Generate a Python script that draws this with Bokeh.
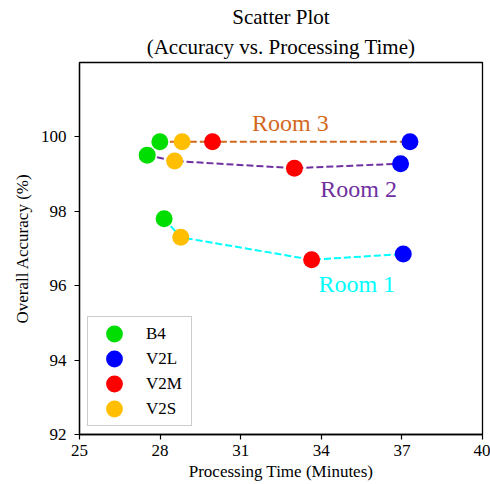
from bokeh.plotting import figure
from bokeh.models import Range1d, FixedTicker, Title, Legend, LegendItem, ColumnDataSource
from bokeh.core.properties import value
from bokeh.embed import file_html
from bokeh.resources import INLINE

# ---- data ----
models = ["B4", "V2S", "V2M", "V2L"]
room1_time = [28.15, 28.77, 33.64, 37.05]
room1_acc = [97.80, 97.30, 96.70, 96.85]
room2_time = [27.52, 28.54, 33.00, 36.95]
room2_acc = [99.51, 99.35, 99.16, 99.28]
room3_time = [27.99, 28.82, 29.95, 37.30]
room3_acc = [99.87, 99.87, 99.87, 99.87]

room_names = ["Room 1", "Room 2", "Room 3"]
room_label_x = [35.32, 35.39, 32.85]
room_label_y = [96.05, 98.61, 100.37]

x_ticks = [25, 28, 31, 34, 37, 40]
y_ticks = [92, 94, 96, 98, 100]

legend_order = ["B4", "V2L", "V2M", "V2S"]
model_colors = {"B4": "#00DD00", "V2L": "#0000FF", "V2M": "#FF0000", "V2S": "#FFBF00"}
room_colors = ["#00FFFF", "#7030A0", "#D2691E"]

title_line1 = "Scatter Plot"
title_line2 = "(Accuracy vs. Processing Time)"

FONT = "Liberation Serif"

p = figure(width=490, height=484, output_backend="svg", toolbar_location=None,
           x_range=Range1d(25, 40), y_range=Range1d(92, 102),
           min_border_left=79, min_border_right=8, min_border_top=62, min_border_bottom=50)

# titles (second line closest to the frame)
t2 = Title(text=title_line2, align="center", text_font=FONT, text_font_size="21px",
           text_font_style="normal", text_color="black", standoff=8)
t1 = Title(text=title_line1, align="center", text_font=FONT, text_font_size="21px",
           text_font_style="normal", text_color="black", standoff=0)
p.add_layout(t2, "above")
p.add_layout(t1, "above")

p.grid.visible = False
p.outline_line_color = "black"
p.outline_line_width = 1.3
p.background_fill_color = "white"
p.border_fill_color = "white"

for ax in (p.xaxis[0], p.yaxis[0]):
    ax.axis_line_color = "black"
    ax.axis_line_width = 1.3
    ax.major_tick_line_color = "black"
    ax.major_tick_line_width = 1.2
    ax.major_tick_out = 5
    ax.major_tick_in = 0
    ax.minor_tick_line_color = None
    ax.major_label_text_font = FONT
    ax.major_label_text_font_size = "17px"
    ax.major_label_text_color = "black"
    ax.axis_label_text_font = FONT
    ax.axis_label_text_font_size = "17px"
    ax.axis_label_text_font_style = "normal"
    ax.axis_label_text_color = "black"

p.xaxis.ticker = FixedTicker(ticks=x_ticks)
p.yaxis.ticker = FixedTicker(ticks=y_ticks)
p.xaxis.axis_label = "Processing Time (Minutes)"
p.yaxis.axis_label = "Overall Accuracy (%)"
p.xaxis.major_label_standoff = 5
p.yaxis.major_label_standoff = 8
p.xaxis.axis_label_standoff = 3
p.yaxis.axis_label_standoff = 6

# room lines
rooms = [(room1_time, room1_acc), (room2_time, room2_acc), (room3_time, room3_acc)]
for (xs, ys), c in zip(rooms, room_colors):
    p.line(xs, ys, line_color=c, line_width=2, line_dash="7 3")

# markers per model (screen-sized ellipses = circles of 17 px)
items = []
for m in legend_order:
    i = models.index(m)
    xs = [room1_time[i], room2_time[i], room3_time[i]]
    ys = [room1_acc[i], room2_acc[i], room3_acc[i]]
    r = p.ellipse(xs, ys, width=17, height=17, width_units="screen", height_units="screen",
                  fill_color=model_colors[m], line_color=None)
    items.append(LegendItem(label=m, renderers=[r]))

# room labels
src = ColumnDataSource(dict(x=room_label_x, y=room_label_y, t=room_names, c=room_colors))
p.text(x="x", y="y", text="t", text_color="c", source=src, text_font=value(FONT),
       text_font_size="24px", text_align="center", text_baseline="alphabetic")

legend = Legend(items=items, location=(8, 8), glyph_width=40, glyph_height=21, spacing=4,
                padding=6, label_standoff=12, label_width=39, label_height=21,
                label_text_font=FONT, label_text_font_size="17px", label_text_color="black",
                border_line_color="#cccccc", border_line_width=1.2, border_line_alpha=1.0,
                background_fill_color="white", background_fill_alpha=1.0)
p.add_layout(legend, "center")

open("out.html", "w").write(file_html(p, INLINE))
